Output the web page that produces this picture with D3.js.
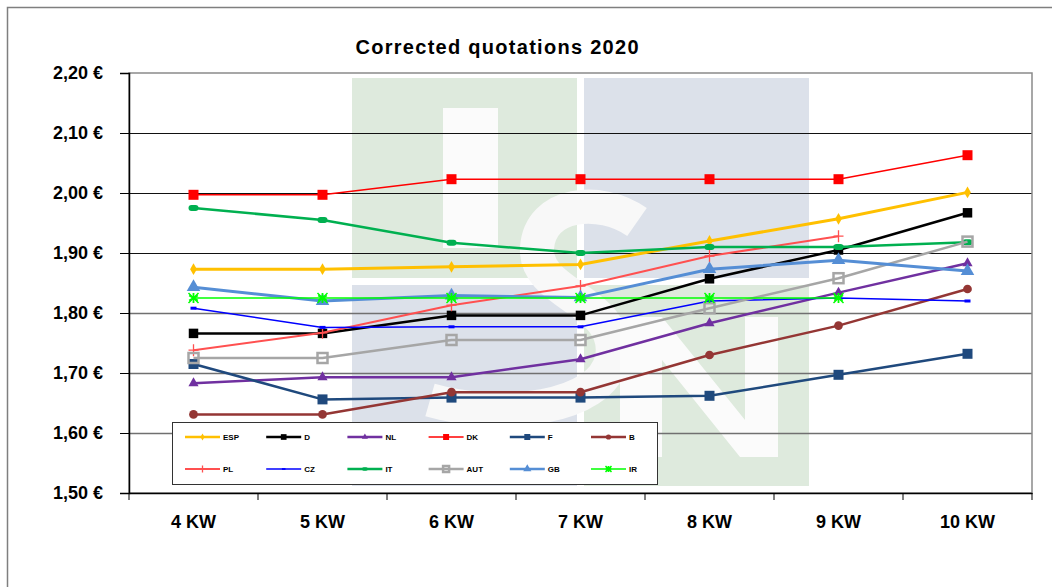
<!DOCTYPE html>
<html>
<head>
<meta charset="utf-8">
<script src="https://cdn.jsdelivr.net/npm/d3@7"></script>
<style>
  body { margin: 0; background: #fff; }
  text { font-family: "Liberation Sans", Arial, sans-serif; font-weight: bold; }
</style>
</head>
<body>
<div id="chart-area"></div>
<script>
// data
const categories = ["4 KW", "5 KW", "6 KW", "7 KW", "8 KW", "9 KW", "10 KW"];
const yTicks = [1.5, 1.6, 1.7, 1.8, 1.9, 2.0, 2.1, 2.2];

const esp = [1.873, 1.873, 1.877, 1.881, 1.920, 1.957, 2.001];
const d   = [1.766, 1.766, 1.796, 1.796, 1.857, 1.905, 1.967];
const nl  = [1.683, 1.693, 1.693, 1.723, 1.783, 1.834, 1.883];
const dk  = [1.997, 1.997, 2.023, 2.023, 2.023, 2.023, 2.063];
const f   = [1.715, 1.656, 1.659, 1.659, 1.662, 1.697, 1.732];
const b   = [1.631, 1.631, 1.668, 1.668, 1.730, 1.779, 1.840];
const pl  = [1.738, 1.767, 1.813, 1.845, 1.895, 1.928, null];
const cz  = [1.808, 1.776, 1.777, 1.777, 1.820, 1.825, 1.820];
const it  = [1.975, 1.955, 1.917, 1.900, 1.910, 1.910, 1.918];
const aut = [1.725, 1.725, 1.755, 1.755, 1.808, 1.858, 1.919];
const gb  = [1.843, 1.820, 1.829, 1.826, 1.873, 1.888, 1.870];
const ir  = [1.825, 1.825, 1.825, 1.825, 1.825, 1.825, null];

const seriesNames = ["ESP", "D", "NL", "DK", "F", "B", "PL", "CZ", "IT", "AUT", "GB", "IR"];

// styling per series
const series = [
  {name: "ESP", values: esp, color: "#FFC000", w: 3,   marker: "diamond", size: 40},
  {name: "D",   values: d,   color: "#000000", w: 2.5, marker: "square",  size: 90},
  {name: "NL",  values: nl,  color: "#7030A0", w: 2.5, marker: "triangle",size: 45},
  {name: "DK",  values: dk,  color: "#FF0000", w: 1.5, marker: "square",  size: 100},
  {name: "F",   values: f,   color: "#1F497D", w: 2.5, marker: "square",  size: 100},
  {name: "B",   values: b,   color: "#943634", w: 2.5, marker: "circle",  size: 60},
  {name: "PL",  values: pl,  color: "#FF5050", w: 2,   marker: "plus",    size: 70},
  {name: "CZ",  values: cz,  color: "#0000FF", w: 1.5, marker: "dash",    size: 0},
  {name: "IT",  values: it,  color: "#00B050", w: 2.5, marker: "pill",    size: 0},
  {name: "AUT", values: aut, color: "#A6A6A6", w: 2.5, marker: "open",    size: 0},
  {name: "GB",  values: gb,  color: "#558ED5", w: 3,   marker: "triangle",size: 80},
  {name: "IR",  values: ir,  color: "#00FF00", w: 1.5, marker: "asterisk",size: 70}
];

const W = 1052, H = 587;
const plot = {left: 129, right: 1032, top: 73, bottom: 493};

const svg = d3.select("#chart-area")
  .append("svg")
    .attr("width", W)
    .attr("height", H);

// outer chart frame
svg.append("rect")
  .attr("x", 7.5).attr("y", 7.5)
  .attr("width", 1200).attr("height", 800)
  .attr("fill", "#fff")
  .attr("stroke", "#7f7f7f").attr("stroke-width", 1.5);

const x = d3.scaleBand().domain(categories).range([plot.left, plot.right]);
const y = d3.scaleLinear().domain([1.5, 2.2]).range([plot.bottom, plot.top]);

// faint logo in the background
const wm = svg.append("g");
const green = "#DEEADD", grey = "#DCE1EA";
wm.append("rect").attr("x", 352).attr("y", 78).attr("width", 225).attr("height", 200).attr("fill", green);
wm.append("rect").attr("x", 584).attr("y", 78).attr("width", 225).attr("height", 200).attr("fill", grey);
wm.append("rect").attr("x", 352).attr("y", 285).attr("width", 225).attr("height", 201).attr("fill", grey);
wm.append("rect").attr("x", 584).attr("y", 285).attr("width", 225).attr("height", 201).attr("fill", green);
wm.append("rect").attr("x", 443).attr("y", 108).attr("width", 55).attr("height", 140).attr("fill", "#fbfbfb");
wm.append("path")
  .attr("d", "M 637 222 C 600 196, 540 202, 537 248 C 534 296, 622 300, 612 358 C 602 410, 500 420, 430 400")
  .attr("fill", "none").attr("stroke", "#f8f8f8").attr("stroke-width", 34);
wm.append("path")
  .attr("d", "M 620 317 L 662 317 L 745 420 L 745 317 L 778 317 L 778 457 L 740 457 L 662 360 L 662 457 L 620 457 Z")
  .attr("fill", "#fbfbfb");

// horizontal gridlines
svg.append("g")
  .selectAll("line")
  .data(yTicks.slice(1, -1))
  .join("line")
    .attr("x1", plot.left).attr("x2", plot.right)
    .attr("y1", v => Math.round(y(v)) + 0.5).attr("y2", v => Math.round(y(v)) + 0.5)
    .attr("stroke", (v, i) => i >= 3 ? "#111" : "#707070")
    .attr("stroke-width", (v, i) => i >= 3 ? 1 : 1.5);

// plot area frame
svg.append("rect")
  .attr("x", plot.left).attr("y", plot.top)
  .attr("width", plot.right - plot.left).attr("height", plot.bottom - plot.top)
  .attr("fill", "none").attr("stroke", "#8a8a8a").attr("stroke-width", 1.5);

// y axis
const yAxis = svg.append("g")
  .attr("transform", `translate(${plot.left}, 0)`)
  .call(d3.axisLeft(y).tickValues(yTicks).tickSize(9).tickPadding(17)
    .tickFormat(v => v.toFixed(2).replace(".", ",") + " €"));
yAxis.selectAll("text").style("font-size", "18px").attr("fill", "#000");
yAxis.selectAll("line").attr("stroke", "#000");
yAxis.select(".domain").attr("stroke", "#000").attr("stroke-width", 1.5);

// x axis, ticks sit between the categories
const xAxis = svg.append("g")
  .attr("transform", `translate(0, ${plot.bottom})`)
  .call(d3.axisBottom(x).tickSize(0).tickPadding(22));
xAxis.select(".domain").attr("stroke", "#000").attr("stroke-width", 1.5);
xAxis.selectAll("text").style("font-size", "18px").attr("fill", "#000");
xAxis.selectAll(".bound")
  .data(categories.map(c => x(c)).concat([plot.right]))
  .join("line")
    .attr("class", "bound")
    .attr("x1", v => v).attr("x2", v => v)
    .attr("y1", 0).attr("y2", 7)
    .attr("stroke", "#000");

// title
svg.append("text")
  .attr("x", 497).attr("y", 54)
  .attr("text-anchor", "middle")
  .attr("textLength", 283)
  .attr("lengthAdjust", "spacing")
  .style("font-size", "20px")
  .text("Corrected quotations 2020");

// marker drawing
function drawMarker(g, s, scale) {
  const k = scale || 1;
  const sym = {diamond: d3.symbolDiamond, square: d3.symbolSquare, triangle: d3.symbolTriangle, circle: d3.symbolCircle};
  if (sym[s.marker]) {
    g.append("path").attr("d", d3.symbol(sym[s.marker], s.size * k * k)()).attr("fill", s.color);
  } else if (s.marker === "plus") {
    g.append("path").attr("d", `M${-5*k},0H${5*k}M0,${-6*k}V${6*k}`).attr("stroke", s.color).attr("stroke-width", 1.3);
  } else if (s.marker === "asterisk") {
    g.append("path").attr("d", d3.symbol(d3.symbolAsterisk, s.size * k * k)()).attr("fill", "none")
      .attr("stroke", s.color).attr("stroke-width", 1.8);
    g.append("path").attr("d", `M${-5*k},${-5*k}L${5*k},${5*k}M${-5*k},${5*k}L${5*k},${-5*k}`)
      .attr("stroke", s.color).attr("stroke-width", 1.5);
  } else if (s.marker === "dash") {
    g.append("rect").attr("x", -3*k).attr("y", -1.5*k).attr("width", 6*k).attr("height", 3*k).attr("fill", s.color);
  } else if (s.marker === "pill") {
    g.append("rect").attr("x", -5*k).attr("y", -3*k).attr("width", 10*k).attr("height", 6*k)
      .attr("rx", 3*k).attr("fill", s.color);
  } else if (s.marker === "open") {
    g.append("rect").attr("x", -5*k).attr("y", -5*k).attr("width", 10*k).attr("height", 10*k)
      .attr("fill", "none").attr("stroke", s.color).attr("stroke-width", 2.5);
  }
}

const line = d3.line()
  .defined(v => v != null)
  .x((v, i) => x(categories[i]) + x.bandwidth() / 2)
  .y(v => y(v));

const lines = svg.append("g");
series.forEach(s => {
  const g = lines.append("g");
  g.append("path")
    .attr("d", line(s.values))
    .attr("fill", "none")
    .attr("stroke", s.color)
    .attr("stroke-width", s.w)
    .attr("stroke-linejoin", "round");
  s.values.forEach((v, i) => {
    if (v == null) return;
    const m = g.append("g")
      .attr("transform", `translate(${x(categories[i]) + x.bandwidth() / 2}, ${y(v)})`);
    drawMarker(m, s);
  });
});

// legend
const legend = svg.append("g");
legend.append("rect")
  .attr("x", 172.5).attr("y", 422.5)
  .attr("width", 485).attr("height", 62)
  .attr("fill", "#fff").attr("stroke", "#333").attr("stroke-width", 1);

series.forEach((s, i) => {
  const col = i % 6, row = Math.floor(i / 6);
  const lx = 185 + col * 81.2, ly = 437 + row * 32;
  const g = legend.append("g");
  g.append("line")
    .attr("x1", lx).attr("x2", lx + 35)
    .attr("y1", ly).attr("y2", ly)
    .attr("stroke", s.color).attr("stroke-width", Math.min(s.w, 2.5));
  const m = g.append("g").attr("transform", `translate(${lx + 17.5}, ${ly})`);
  drawMarker(m, s, 0.6);
  g.append("text")
    .attr("x", lx + 38).attr("y", ly + 3)
    .style("font-size", "8px")
    .text(seriesNames[i]);
});
</script>
</body>
</html>
